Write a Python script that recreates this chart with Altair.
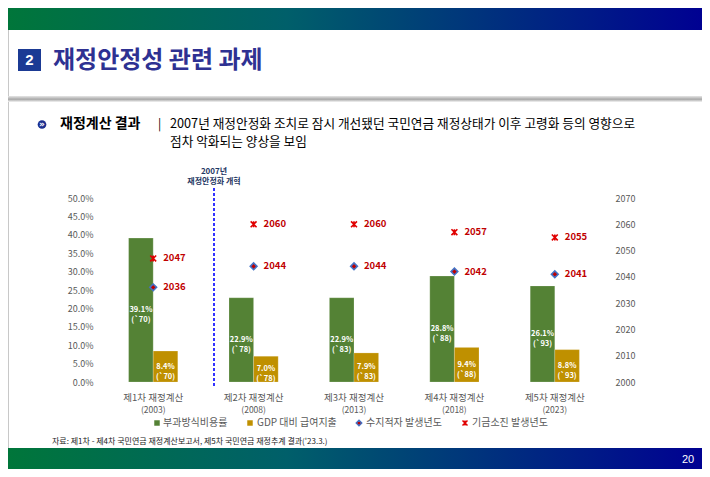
import altair as alt
import pandas as pd

# ---------------- data ----------------
CATS = ["제1차 재정계산", "제2차 재정계산", "제3차 재정계산", "제4차 재정계산", "제5차 재정계산"]
ROUND_YEARS = ["(2003)", "(2008)", "(2013)", "(2018)", "(2023)"]
PAYGO_RATE = [39.1, 22.9, 22.9, 28.8, 26.1]        # 부과방식비용률 (%)
GDP_SPEND = [8.4, 7.0, 7.9, 9.4, 8.8]               # GDP 대비 급여지출 (%)
PEAK_YEAR = ["70", "78", "83", "88", "93"]          # 최고치 연도 ('70 ...)
DEFICIT_YEAR = [2036, 2044, 2044, 2042, 2041]       # 수지적자 발생년도
DEPLETION_YEAR = [2047, 2060, 2060, 2057, 2055]     # 기금소진 발생년도
SERIES = ["부과방식비용률", "GDP 대비 급여지출", "수지적자 발생년도", "기금소진 발생년도"]
PCT_TICKS = [0.0, 0.05, 0.10, 0.15, 0.20, 0.25, 0.30, 0.35, 0.40, 0.45, 0.50]
YEAR_TICKS = [2000, 2010, 2020, 2030, 2040, 2050, 2060, 2070]

GREEN = "#548235"
GOLD = "#bf9000"
RED = "#c00000"
FONT = "Noto Sans CJK KR"

bars = []
for i, c in enumerate(CATS):
    bars.append({"cat": c, "series": SERIES[0], "value": PAYGO_RATE[i] / 100,
                 "label": f"{PAYGO_RATE[i]:.1f}%\n(`{PEAK_YEAR[i]})"})
    bars.append({"cat": c, "series": SERIES[1], "value": GDP_SPEND[i] / 100,
                 "label": f"{GDP_SPEND[i]:.1f}%\n(`{PEAK_YEAR[i]})"})
bar_df = pd.DataFrame(bars)

marks = []
for i, c in enumerate(CATS):
    marks.append({"cat": c, "kind": SERIES[2], "year": DEFICIT_YEAR[i]})
    marks.append({"cat": c, "kind": SERIES[3], "year": DEPLETION_YEAR[i]})
mark_df = pd.DataFrame(marks)

xlab_df = pd.DataFrame({"cat": CATS, "round": ROUND_YEARS})

xscale = alt.Scale(domain=CATS, paddingInner=0.51, paddingOuter=0.255)
ypct = alt.Scale(domain=[0, 0.5], nice=False)
yyear = alt.Scale(domain=[2000, 2070], nice=False, zero=False)
xoff = alt.XOffset("series:N", sort=SERIES[:2],
                   scale=alt.Scale(domain=SERIES[:2], paddingInner=0, paddingOuter=0))

# ---------------- chart body ----------------
base_bar = alt.Chart(bar_df)
bar_layer = base_bar.mark_bar(stroke="#ffffff", strokeWidth=0.5, strokeOpacity=0.4).encode(
    x=alt.X("cat:N", scale=xscale, sort=CATS,
            axis=alt.Axis(labels=False, ticks=False, domain=True, domainColor="#d9d9d9",
                          domainWidth=1.2, title=None, grid=False)),
    xOffset=xoff,
    y=alt.Y("value:Q", scale=ypct,
            axis=alt.Axis(orient="left", values=PCT_TICKS, format=".1%", domain=False, ticks=False,
                          grid=False, title=None, labelPadding=10, labelColor="#595959",
                          labelFontSize=9, labelFont=FONT)),
    color=alt.Color("series:N", scale=alt.Scale(domain=SERIES[:2], range=[GREEN, GOLD]), legend=None),
)
bar_text = base_bar.transform_calculate(mid="datum.value / 2").mark_text(
    lineBreak="\n", color="white", fontWeight="bold", fontSize=7.5, font=FONT,
    baseline="middle", lineHeight=10,
).encode(
    x=alt.X("cat:N", scale=xscale, sort=CATS, axis=None),
    xOffset=xoff,
    y=alt.Y("mid:Q", scale=ypct, axis=None),
    text="label:N",
)

base_mark = alt.Chart(mark_df)
STAR = "M-1,-1L1,1M-1,1L1,-1M0,-1L0,1"
diamonds = base_mark.transform_filter(alt.datum.kind == SERIES[2]).mark_point(
    shape="diamond", filled=True, fill=RED, stroke="#4472c4", strokeWidth=1.6, size=45, opacity=1
).encode(
    x=alt.X("cat:N", scale=xscale, sort=CATS, axis=None),
    y=alt.Y("year:Q", scale=yyear,
            axis=alt.Axis(orient="right", values=YEAR_TICKS, format="d", domain=False, ticks=False,
                          grid=False, title=None, labelPadding=10, labelColor="#595959",
                          labelFontSize=9, labelFont=FONT)),
)
stars = base_mark.transform_filter(alt.datum.kind == SERIES[3]).mark_point(
    shape=STAR, filled=False, stroke="#e00000", strokeWidth=1.6, size=35, opacity=1
).encode(
    x=alt.X("cat:N", scale=xscale, sort=CATS, axis=None),
    y=alt.Y("year:Q", scale=yyear, axis=None),
)
year_text = base_mark.mark_text(
    align="left", dx=10, baseline="middle", color=RED, fontWeight="bold", fontSize=9.5, font=FONT
).encode(
    x=alt.X("cat:N", scale=xscale, sort=CATS, axis=None),
    y=alt.Y("year:Q", scale=yyear, axis=None),
    text=alt.Text("year:Q", format="d"),
)

xlabels1 = alt.Chart(xlab_df).mark_text(
    baseline="middle", fontSize=9.5, color="#595959", font=FONT
).encode(x=alt.X("cat:N", scale=xscale, sort=CATS, axis=None), y=alt.value(200), text="cat:N")
xlabels2 = alt.Chart(xlab_df).mark_text(
    baseline="middle", fontSize=8.5, color="#595959", font=FONT
).encode(x=alt.X("cat:N", scale=xscale, sort=CATS, axis=None), y=alt.value(212), text="round:N")

# ---------------- slide decorations (pixel positions relative to plot origin) ----------------
one = pd.DataFrame({"a": [0]})


def rect(x, x2, y, y2, **kw):
    return alt.Chart(one).mark_rect(**kw).encode(
        x=alt.value(x), x2=alt.value(x2), y=alt.value(y), y2=alt.value(y2))


def text(t, x, y, **kw):
    kw.setdefault("font", FONT)
    return alt.Chart(one).mark_text(text=t, **kw).encode(x=alt.value(x), y=alt.value(y))


def rule(x, x2, y, y2, **kw):
    return alt.Chart(one).mark_rule(**kw).encode(
        x=alt.value(x), x2=alt.value(x2), y=alt.value(y), y2=alt.value(y2))


def dot(x, y, **kw):
    return alt.Chart(one).mark_point(opacity=1, **kw).encode(x=alt.value(x), y=alt.value(y))


grad_h = alt.Gradient(gradient="linear", x1=0, x2=1, y1=0, y2=0,
                      stops=[alt.GradientStop(color="#00763a", offset=0),
                             alt.GradientStop(color="#005f6a", offset=0.4),
                             alt.GradientStop(color="#000092", offset=1)])
grad_v = alt.Gradient(gradient="linear", x1=0, x2=0, y1=0, y2=1,
                      stops=[alt.GradientStop(color="#e6e6e6", offset=0),
                             alt.GradientStop(color="#a8a8a8", offset=0.55),
                             alt.GradientStop(color="#f4f4f4", offset=1)])

decos = [
    rule(-94.5, -94.5, -168, 250, color="#c8c8c8", strokeWidth=1),
    rule(601.5, 601.5, -168, 250, color="#c8c8c8", strokeWidth=1),
    rect(-95, 602, -190, -168, color=grad_h),
    rect(-95, 602, 250, 272, color=grad_h),
    rect(-95, 602, -102, -96, color=grad_v),
    rect(-85, -62, -149, -127, color="#1b3a94"),
    text("2", -73.5, -138, color="white", fontWeight="bold", fontSize=15, baseline="middle",
         align="center", font="Liberation Sans"),
    text("재정안정성 관련 과제", -50, -137, color="#2e3192", fontWeight="bold", fontSize=24,
         baseline="middle", align="left"),
    dot(-61, -73.5, shape="circle", filled=True, color="#1b2f8f", size=75),
    text("»", -61, -74, color="white", fontWeight="bold", fontSize=9, baseline="middle", align="center",
         font="DejaVu Sans"),
    text("재정계산 결과", -43, -74, color="#000000", fontWeight="bold", fontSize=14,
         baseline="middle", align="left"),
    text("|", 55, -74, color="#000000", fontSize=12, baseline="middle", align="left"),
    text("2007년 재정안정화 조치로 잠시 개선됐던 국민연금 재정상태가 이후 고령화 등의 영향으로",
         67, -74.5, color="#000000", fontSize=12.7, baseline="middle", align="left"),
    text("점차 악화되는 양상을 보임",
         67, -56, color="#000000", fontSize=12.7, baseline="middle", align="left"),
    text("2007년", 111, -26, color="#1f3864", fontWeight="bold", fontSize=8,
         baseline="middle", align="center"),
    text("재정안정화 개혁", 111, -16, color="#1f3864", fontWeight="bold", fontSize=8,
         baseline="middle", align="center"),
    rule(111, 111, -10, 189, color="#0000ff", strokeWidth=1.6, strokeDash=[3, 2]),
    # legend
    dot(54, 225, shape="square", filled=True, color=GREEN, size=30),
    text(SERIES[0], 60, 225, color="#595959", fontSize=10, baseline="middle", align="left"),
    dot(147, 225, shape="square", filled=True, color=GOLD, size=30),
    text(SERIES[1], 154, 225, color="#595959", fontSize=10, baseline="middle", align="left"),
    dot(256, 225, shape="diamond", filled=True, fill=RED, stroke="#4472c4", strokeWidth=1.4, size=30),
    text(SERIES[2], 263, 225, color="#595959", fontSize=10, baseline="middle", align="left"),
    dot(362, 225, shape=STAR, filled=False, stroke="#e00000", strokeWidth=1.5, size=25),
    text(SERIES[3], 369, 225, color="#595959", fontSize=10, baseline="middle", align="left"),
    text("자료: 제1차 - 제4차 국민연금 재정계산보고서, 제5차 국민연금 재정추계 결과('23.3.)", -51, 244,
         color="#222222", fontSize=8, baseline="middle", align="left"),
    text("20", 585, 262, color="white", fontSize=11, baseline="middle", align="center",
         font="Liberation Sans"),
]

chart = alt.layer(
    bar_layer, diamonds, bar_text, stars, year_text, xlabels1, xlabels2, *decos
).resolve_scale(
    y="independent"
).properties(
    width=502, height=184,
    padding={"left": 95, "top": 190, "right": 97, "bottom": 87},
    autosize=alt.AutoSizeParams(type="none"),
    background="white",
).configure_view(stroke=None)

chart.save("out.html", embed_options={"renderer": "svg", "actions": False})
